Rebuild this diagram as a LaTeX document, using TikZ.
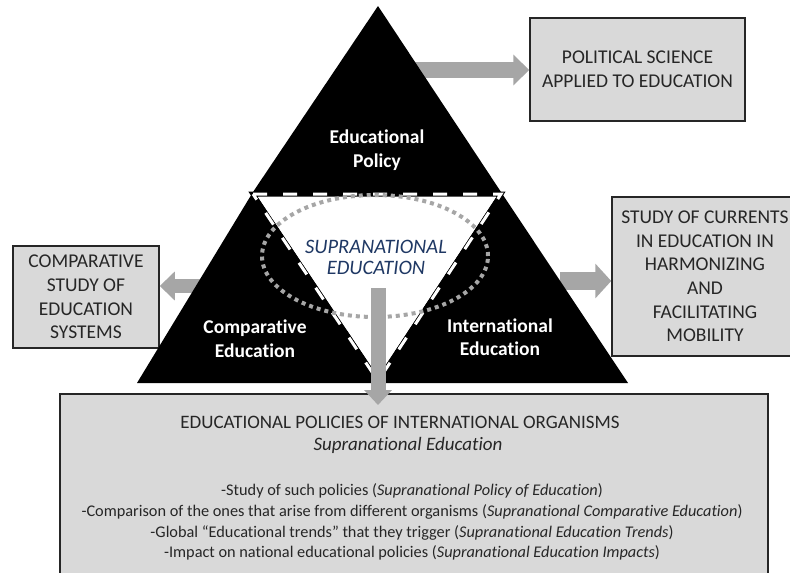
\documentclass[tikz,border=0pt]{standalone}
\usepackage{fontspec}
\setmainfont{Carlito}[Ligatures=NoCommon]
\usetikzlibrary{arrows.meta}
\definecolor{boxgray}{HTML}{D9D9D9}
\definecolor{arrgray}{HTML}{A6A6A6}
\definecolor{supblue}{HTML}{1F3864}
\definecolor{textgray}{HTML}{262626}
\tikzset{
  greybox/.style={draw=black!85, line width=1.5pt, fill=boxgray, inner sep=0pt, align=center, text=textgray,
    font=\fontsize{19.5}{23.6}\selectfont},
  trilabel/.style={text=white, align=center, font=\bfseries\fontsize{19.5}{23.5}\selectfont},
  fatarrow/.style={draw=arrgray, line width=16pt, -{Triangle[length=16pt,width=30pt]}},
  blacktri/.style={fill=black},
}
\begin{document}
\begin{tikzpicture}[x=1pt,y=-1pt]
\useasboundingbox (0,0) rectangle (790,573);
% boxes
\node[greybox, minimum width=215pt, minimum height=103pt] (pol) at (637.5,69.5) {POLITICAL SCIENCE\\APPLIED TO EDUCATION};
\node[greybox, minimum width=186pt, minimum height=159pt] (cur) at (705,276.5) {STUDY OF CURRENTS\\IN EDUCATION IN\\HARMONIZING\\AND\\FACILITATING\\MOBILITY};
\node[greybox, minimum width=146pt, minimum height=102pt] (cmp) at (86,297) {COMPARATIVE\\STUDY OF\\EDUCATION\\SYSTEMS};
\node[greybox, minimum width=708pt, minimum height=210pt, anchor=north west] (bot) at (59,393) {};
% side arrows (behind triangles)
\coordinate (a1) at (405,70);
\coordinate (a2) at (560,281);
\coordinate (a3) at (215,286);
\draw[fatarrow] (a1) -- (a1 -| pol.west);
\draw[fatarrow, line width=18pt, -{Triangle[length=16pt,width=34pt]}] (a2) -- (a2 -| cur.west);
\draw[fatarrow, line width=14pt, -{Triangle[length=15pt,width=28pt]}] (a3) -- (a3 -| cmp.east);
% triangles
\fill[blacktri] (378,6) -- (253,192) -- (501,192) -- cycle;
\fill[blacktri] (253,192) -- (137,383) -- (378,383) -- cycle;
\fill[blacktri] (501,192) -- (378,383) -- (628,383) -- cycle;
\fill[white] (253,192) -- (501,192) -- (378,383) -- cycle;
\draw[black, line width=5pt, line join=miter] (253,194) -- (501,194) -- (378,381) -- cycle;
\draw[white, line width=3pt, dash pattern=on 14pt off 16pt] (253,194) -- (501,194) -- (378,381) -- cycle;
\fill[white] (258,197) -- (496,197) -- (378,376) -- cycle;
% dotted ellipse
\draw[arrgray, line width=4pt, dash pattern=on 4pt off 4pt] (375,256) ellipse [x radius=113pt, y radius=61pt];
% labels
\node[trilabel] (pol-t) at (377,150) {Educational\\Policy};
\node[trilabel] (cmp-t) at (255,338.5) {Comparative\\Education};
\node[trilabel] (int-t) at (500,337) {International\\Education};
\node[text=supblue, align=center, font=\itshape\fontsize{20.5}{21.5}\selectfont] (sup) at (376,257.5) {SUPRANATIONAL\\EDUCATION};
% bottom box text
\node[text=textgray, font=\fontsize{19}{20}\selectfont] (bt) at (400,422) {EDUCATIONAL POLICIES OF INTERNATIONAL ORGANISMS};
\node[text=textgray, font=\itshape\fontsize{19}{20}\selectfont] (bs) at (408,445) {Supranational Education};
\node[text=textgray, align=center, font=\fontsize{16.3}{20.7}\selectfont] (bl) at (412,522) {-Study of such policies (\textit{Supranational Policy of Education})\\
-Comparison of the ones that arise from different organisms (\textit{Supranational Comparative Education})\\
-Global “Educational trends” that they trigger (\textit{Supranational Education Trends})\\
-Impact on national educational policies (\textit{Supranational Education Impacts})};
% down arrow
\coordinate (d1) at (378,288);
\draw[fatarrow, line width=15pt, -{Triangle[length=15pt,width=27pt]}] (d1) -- (d1 |- 0,405);
\end{tikzpicture}
\end{document}
